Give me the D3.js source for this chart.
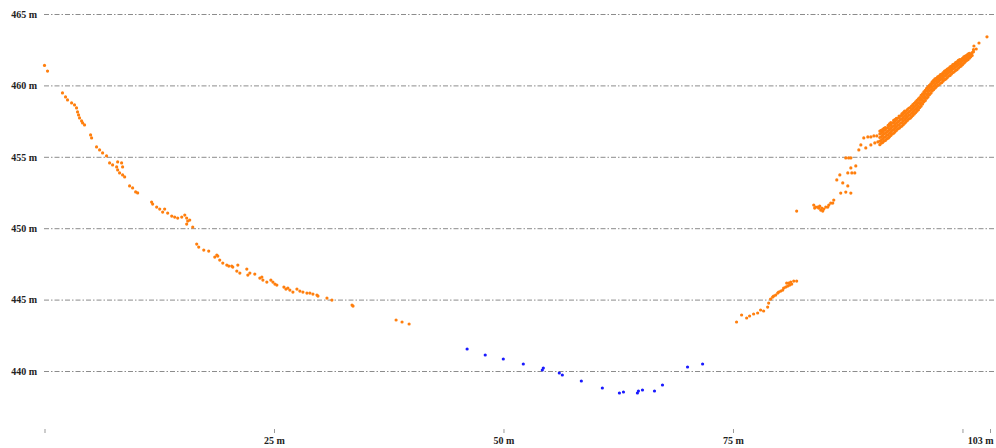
<!DOCTYPE html>
<html>
<head>
<meta charset="utf-8">
<script src="https://cdn.jsdelivr.net/npm/d3@7"></script>
<style>
  body { margin: 0; background: #fff; }
  .axis text { font-family: "Liberation Serif", "Times New Roman", serif; font-size: 10px; fill: #222; }
</style>
</head>
<body>
<div id="chart"></div>
<script>
// tick values
var yTicks = [440, 445, 450, 455, 460, 465];
var xTicks = [0, 25, 50, 75, 100, 103];

// orange points, left slope [distance m, height m]
var leftPts = [
  [0.0,461.4],[0.33,461.0],[1.96,459.47],[2.29,459.19],[2.51,458.98],[2.95,458.77],[3.27,458.63],
  [3.49,458.42],[3.60,458.14],[3.71,457.93],[3.82,457.72],[4.04,457.51],[4.15,457.37],[4.36,457.23],
  [5.02,456.53],[5.13,456.32],[5.67,455.69],[6.00,455.48],[6.33,455.27],[6.76,455.06],[7.09,454.57],
  [7.42,454.43],[7.86,454.29],[7.97,454.64],[8.40,454.57],[8.51,454.29],[7.97,454.08],[8.18,453.87],
  [8.51,453.73],[8.73,453.59],[9.27,452.96],[9.60,452.82],[9.93,452.54],[10.15,452.47],[11.67,451.83],
  [11.78,451.69],[12.22,451.48],[12.55,451.34],[12.87,451.13],[13.09,451.34],[13.42,451.06],[13.86,450.85],
  [14.18,450.78],[14.51,450.71],[14.95,450.78],[15.28,450.92],[15.49,450.71],[15.60,450.50],[15.49,450.29],
  [15.82,450.57],[16.15,450.08],[16.58,448.89],[16.80,448.68],[17.35,448.47],[17.89,448.40],[18.55,447.98],
  [18.77,448.12],[18.88,448.05],[19.09,447.77],[19.42,447.56],[19.86,447.42],[20.08,447.35],[20.40,447.35],
  [20.51,447.28],[21.06,447.42],[20.95,447.00],[21.28,446.86],[22.04,447.14],[22.15,446.72],[22.37,446.86],
  [22.91,446.79],[23.46,446.51],[23.68,446.58],[23.79,446.37],[24.22,446.23],[24.66,446.37],[24.88,446.23],
  [25.10,446.09],[25.31,446.02],[26.08,445.88],[26.30,445.74],[26.51,445.81],[26.73,445.67],[27.06,445.53],
  [27.50,445.74],[27.82,445.60],[28.15,445.53],[28.59,445.46],[28.91,445.46],[29.24,445.39],[29.68,445.32],
  [29.79,445.25],[30.77,445.11],[31.31,444.97],[33.61,444.55],[33.50,444.62],[38.30,443.57],[38.95,443.43],
  [39.72,443.29]
];

// blue points at the bottom of the valley
var bluePts = [
  [46.04,441.54],[48.01,441.12],[49.98,440.84],[52.16,440.49],[54.23,440.07],[54.34,440.21],[56.08,439.86],
  [56.41,439.72],[58.48,439.30],[60.77,438.81],[62.63,438.46],[63.07,438.53],[64.59,438.46],[64.70,438.60],
  [65.14,438.67],[66.45,438.60],[67.32,439.02],[70.05,440.28],[71.69,440.49]
];

// orange points, right slope (lower and middle groups)
var rightPts = [
  [75.39,443.43],[75.94,443.92],[76.49,443.71],[76.81,443.85],[77.25,443.99],[77.69,444.06],[78.01,444.27],
  [78.34,444.20],[78.78,444.48],[78.89,444.76],[79.10,445.04],[79.32,445.18],[79.43,445.25],[79.87,445.46],
  [80.20,445.60],[80.52,445.81],[80.96,445.95],[81.07,446.16],[81.40,446.09],[81.94,446.30],[79.65,445.32],
  [79.98,445.53],[80.42,445.67],[80.74,445.88],[81.18,446.02],[80.85,446.16],[81.29,446.23],[81.62,446.30],
  [81.94,451.20],[83.80,451.62],[84.23,451.48],[84.78,451.20],[85.33,451.48],[85.65,451.76],[85.98,451.97],
  [84.01,451.48],[84.34,451.41],[84.56,451.27],[84.89,451.34],[85.11,451.48],[85.44,451.62],[85.87,451.76],
  [83.90,451.41],[84.45,451.55],[84.67,451.41],[86.31,453.38],[86.64,453.73],[86.96,453.17],[87.51,453.87],
  [87.84,454.22],[87.95,453.87],[88.27,453.87],[88.38,454.36],[86.74,452.46],[87.29,452.53],[87.51,452.96],
  [87.84,452.46],[87.29,454.92],[87.84,454.92],[87.60,454.92],
  [89.25,456.32],[89.69,456.39],[90.02,456.39],[90.35,456.46],[90.67,456.46],
  [88.71,455.48],[88.93,455.83],[89.47,455.62],[90.02,455.83],[90.45,455.97],[90.78,456.04],
  [101.25,462.76],[101.80,462.97],[102.67,463.40]
];

// dense band near the top right: [distance, heights read at that distance...]
var bandCols = [
  [91.0,455.85,456.1,456.35,456.6,456.8],[91.15,455.95,456.15,456.4,456.65,456.85],
  [91.3,456.0,456.25,456.5,456.75,456.9],[91.45,456.1,456.35,456.6,456.85,457.0],
  [91.6,456.15,456.4,456.65,456.9,457.05],[91.75,456.25,456.5,456.75,457.0],
  [91.9,456.3,456.55,456.8,457.05,457.2],[92.05,456.4,456.65,456.9,457.15,457.3],
  [92.2,456.5,456.75,457.0,457.25,457.4],[92.35,456.6,456.85,457.1,457.35],
  [92.5,456.65,456.9,457.15,457.4,457.55],[92.65,456.75,457.0,457.25,457.5,457.6],
  [92.8,456.85,457.1,457.35,457.6,457.7],[92.95,456.95,457.2,457.45,457.7],
  [93.1,457.0,457.25,457.5,457.75,457.85],[93.25,457.1,457.35,457.6,457.85],
  [93.4,457.15,457.4,457.65,457.9,458.0],[93.55,457.25,457.5,457.75,458.0,458.1],
  [93.7,457.35,457.6,457.85,458.1,458.2],[93.85,457.45,457.7,457.95,458.2],
  [94.0,457.55,457.8,458.05,458.3],[94.15,457.65,457.9,458.15,458.4],
  [94.3,457.7,457.95,458.2,458.45],[94.45,457.8,458.05,458.3,458.55],
  [94.6,457.9,458.15,458.4,458.65],[94.75,458.0,458.25,458.5,458.75],
  [94.9,458.1,458.35,458.6,458.85],[95.05,458.2,458.45,458.7,458.95],
  [95.2,458.3,458.55,458.8,459.05],[95.35,458.45,458.7,458.95,459.15],
  [95.5,458.55,458.8,459.05,459.3],[95.65,458.7,458.95,459.2,459.4],
  [95.8,458.85,459.1,459.35,459.55],[95.95,458.95,459.2,459.45,459.65],
  [96.1,459.1,459.35,459.6,459.8],[96.25,459.2,459.45,459.7,459.9],
  [96.4,459.35,459.6,459.85,460.0],[96.55,459.45,459.7,459.95,460.1],
  [96.7,459.6,459.85,460.1,460.25],[96.85,459.7,459.95,460.2,460.35],
  [97.0,459.8,460.05,460.3,460.45],[97.15,459.9,460.15,460.35,460.5],
  [97.3,460.0,460.25,460.45,460.6],[97.45,460.05,460.3,460.5,460.65],
  [97.6,460.15,460.4,460.6,460.75],[97.75,460.2,460.45,460.65,460.8],
  [97.9,460.3,460.55,460.75,460.9],[98.05,460.4,460.65,460.85,461.0],
  [98.2,460.45,460.7,460.9,461.05],[98.35,460.55,460.8,461.0,461.15],
  [98.5,460.65,460.9,461.1,461.2],[98.65,460.7,460.95,461.15,461.3],
  [98.8,460.8,461.05,461.25,461.35],[98.95,460.9,461.15,461.35,461.45],
  [99.1,460.95,461.2,461.4,461.5],[99.25,461.05,461.3,461.5,461.6],
  [99.4,461.1,461.35,461.55,461.65],[99.55,461.2,461.45,461.65,461.75],
  [99.7,461.3,461.5,461.7,461.8],[99.85,461.35,461.6,461.8],
  [100.0,461.45,461.7,461.9],[100.15,461.55,461.8,462.0],
  [100.3,461.65,461.85,462.05],[100.45,461.75,461.95,462.1],
  [100.6,461.8,462.0,462.2],[100.75,461.9,462.1,462.25],
  [100.9,462.0,462.2],[101.05,462.1,462.3],[101.2,462.35,462.5],[101.5,462.55]
];

var width = 996, height = 448;

var x = d3.scaleLinear().domain([0, 103]).range([44.5, 990]);
var y = d3.scaleLinear().domain([440, 465]).range([371, 14]);

var svg = d3.select("#chart").append("svg")
  .attr("width", width)
  .attr("height", height);

// y axis with dash-dot grid lines
var yAxis = d3.axisLeft(y)
  .tickValues(yTicks)
  .tickSize(-(width - 44))
  .tickPadding(7)
  .tickFormat(function(d) { return d + " m"; });

var gy = svg.append("g")
  .attr("class", "axis")
  .attr("transform", "translate(44,0)")
  .call(yAxis);
gy.select(".domain").remove();
gy.selectAll("line")
  .attr("stroke", "#8c8c8c")
  .attr("stroke-dasharray", "5,2,1.5,2");
gy.selectAll("text").attr("font-weight", "bold");

// x axis, labels only on some ticks
var xAxis = d3.axisBottom(x)
  .tickValues(xTicks)
  .tickSize(4)
  .tickPadding(4)
  .tickFormat(function(d) { return (d == 0 || d == 100) ? "" : d + " m"; });

var gx = svg.append("g")
  .attr("class", "axis")
  .attr("transform", "translate(0,429)")
  .call(xAxis);
gx.select(".domain").remove();
gx.selectAll("line").attr("stroke", "#999");
gx.selectAll("text").attr("font-weight", "bold");
gx.selectAll(".tick").filter(function(d) { return d == 103; })
  .select("text").attr("text-anchor", "end").attr("x", 3);

// flatten band columns into points
var bandPts = [];
bandCols.forEach(function(c) {
  for (var i = 1; i < c.length; i++) bandPts.push([c[0], c[i]]);
});

var orangePts = leftPts.concat(rightPts, bandPts);

svg.append("g")
  .selectAll("circle")
  .data(orangePts)
  .enter().append("circle")
  .attr("cx", function(d) { return x(d[0]); })
  .attr("cy", function(d) { return y(d[1]); })
  .attr("r", 1.6)
  .attr("fill", "#ff7f0e");

svg.append("g")
  .selectAll("circle")
  .data(bluePts)
  .enter().append("circle")
  .attr("cx", function(d) { return x(d[0]); })
  .attr("cy", function(d) { return y(d[1]); })
  .attr("r", 1.6)
  .attr("fill", "#1a1aff");
</script>
</body>
</html>
